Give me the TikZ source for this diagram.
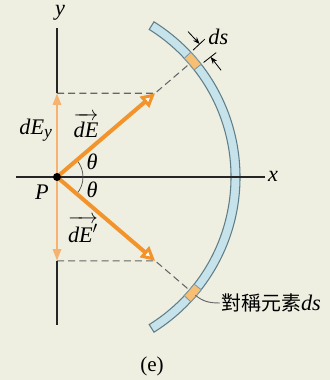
\documentclass[tikz,border=0pt]{standalone}
\usepackage{fontspec}
\setmainfont{Liberation Serif}
\newfontfamily\cjk{Noto Sans CJK TC}
\usetikzlibrary{arrows.meta,calc}

\definecolor{bgcol}{HTML}{EEEEE1}
\definecolor{vecorange}{HTML}{F2932B}
\definecolor{lightorange}{HTML}{F6B26E}
\definecolor{tubefill}{HTML}{C6E2EA}
\definecolor{tubeedge}{HTML}{5F7E88}
\definecolor{elemfill}{HTML}{F7BF73}

\newcommand{\vecl}[2][]{$\overrightarrow{\textit{#2}#1\rule{0pt}{0.82em}}$}

\begin{document}
\begin{tikzpicture}[x=0.03cm, y=0.03cm,
    axisln/.style={line width=1.5pt, draw=black!85},
    dashln/.style={draw=black!60, line width=0.9pt, dash pattern=on 6pt off 3.5pt},
    vecarr/.style={line width=3.4pt, draw=vecorange, -{Triangle[open, length=12pt, width=12pt, line width=2.6pt, fill=white]}},
    comparr/.style={line width=2pt, draw=lightorange, -{Triangle[length=10pt, width=7pt]}},
    dimarr/.style={line width=0.7pt, -{Stealth[length=6pt, width=4.5pt]}},
    lbl/.style={font=\fontsize{19}{22}\selectfont\itshape, inner sep=1pt}
]
\useasboundingbox[fill=bgcol] (-57,-203) rectangle (273,177);

% key points
\coordinate (P) at (0,0);
\coordinate (tip) at (40.5:129);
\coordinate (tipb) at (-40.5:129);
\coordinate (ytip) at (P |- tip);
\coordinate (ytipb) at (P |- tipb);
\coordinate (ytop) at (0,149);
\coordinate (ybot) at (0,-148);
\coordinate (xleft) at (-41,0);
\coordinate (xright) at (208,0);
\coordinate (elem) at (40.5:176);
\coordinate (elemb) at (-40.5:176);

% dashed projections
\draw[dashln] (ytip) -- (tip) -- (elem);
\draw[dashln] (ytipb) -- (tipb) -- (elemb);

% the charged arc
\filldraw[fill=tubefill, draw=tubeedge, line width=0.9pt]
    (-58:174) arc[start angle=-58, end angle=58, radius=174]
    -- (58:183) arc[start angle=58, end angle=-58, radius=183] -- cycle;
\filldraw[fill=elemfill, draw=tubeedge!80, line width=0.7pt]
    (38:174) arc[start angle=38, end angle=43, radius=174]
    -- (43:183) arc[start angle=43, end angle=38, radius=183] -- cycle;
\filldraw[fill=elemfill, draw=tubeedge!80, line width=0.7pt]
    (-43:174) arc[start angle=-43, end angle=-38, radius=174]
    -- (-38:183) arc[start angle=-38, end angle=-43, radius=183] -- cycle;

% ds width marks
\coordinate (ea1) at (43:186);
\coordinate (ea2) at (43:202);
\coordinate (eb1) at (38:186);
\coordinate (eb2) at (38:202);
\draw[line width=0.7pt] (ea1) -- (ea2);
\draw[line width=0.7pt] (eb1) -- (eb2);
\coordinate (da) at (43:195);
\coordinate (db) at (38:195);
\draw[dimarr] ($(da)+(133:17)$) -- (da);
\draw[dimarr] ($(db)+(-52:17)$) -- (db);
\node[lbl, anchor=west] (dslbl) at (150,140) {ds};

% axes
\draw[axisln] (xleft) -- (xright);
\draw[axisln] (ytip) -- (ytop);
\draw[axisln] (ytipb) -- (ybot);
\node[lbl] (xlbl) at (216,1) {x};
\node[lbl] (ylbl) at (3,164) {y};

% angle
\draw[black!70, line width=0.6pt] (-40.5:26) arc[start angle=-40.5, end angle=40.5, radius=26];
\node[lbl] (th1) at (35,15) {θ};
\node[lbl] (th2) at (35,-13) {θ};

% field vectors
\draw[comparr] (P) -- (ytip);
\draw[comparr] (P) -- (ytipb);
\draw[vecarr] (P) -- (tip);
\draw[vecarr] (P) -- (tipb);
\fill (P) circle[radius=4];

\node[lbl] (Plbl) at (-15,-15) {P};
\node[lbl, anchor=east] (Eylbl) at (-3,47) {dE\textsubscript{\fontsize{15}{17}\selectfont y}};
\node[lbl] (Elbl) at (29,52) {\vecl{dE}};
\node[lbl] (Eplbl) at (26,-52) {\vecl[{'\rule{0pt}{0.9em}}]{dE}};

% symmetric element label
\node[anchor=west, inner sep=1pt, font=\fontsize{17}{20}\selectfont] (symlbl) at (163,-126)
    {\cjk 對稱元素\rmfamily\itshape\fontsize{19}{22}\selectfont ds};
\draw[black!60, line width=0.8pt] (-40.5:182) to[out=-40.5, in=180] (symlbl.west);

\node[font=\fontsize{18}{21}\selectfont] (cap) at (95,-189) {(e)};
\end{tikzpicture}
\end{document}
